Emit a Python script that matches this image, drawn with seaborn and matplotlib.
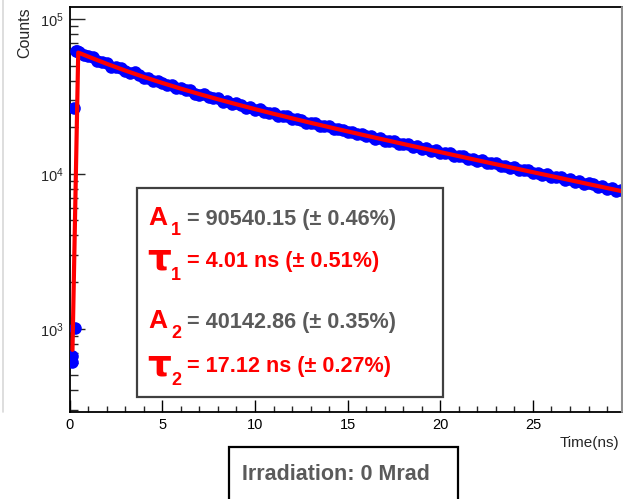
import matplotlib
matplotlib.use("Agg")
import matplotlib.pyplot as plt
import matplotlib.ticker as mticker
from matplotlib.patches import Rectangle
import seaborn as sns
import pandas as pd

# Measured decay histogram (time in ns, counts per bin)
data_time = [0.10, 0.12, 0.27, 0.23, 0.32, 0.40,
             0.50, 0.75, 1.00, 1.25, 1.50, 1.75, 2.00, 2.25, 2.50, 2.75,
             3.00, 3.25, 3.50, 3.75, 4.00, 4.25, 4.50, 4.75, 5.00, 5.25,
             5.50, 5.75, 6.00, 6.25, 6.50, 6.75, 7.00, 7.25, 7.50, 7.75,
             8.00, 8.25, 8.50, 8.75, 9.00, 9.25, 9.50, 9.75, 10.00, 10.25,
             10.50, 10.75, 11.00, 11.25, 11.50, 11.75, 12.00, 12.25, 12.50, 12.75,
             13.00, 13.25, 13.50, 13.75, 14.00, 14.25, 14.50, 14.75, 15.00, 15.25,
             15.50, 15.75, 16.00, 16.25, 16.50, 16.75, 17.00, 17.25, 17.50, 17.75,
             18.00, 18.25, 18.50, 18.75, 19.00, 19.25, 19.50, 19.75, 20.00, 20.25,
             20.50, 20.75, 21.00, 21.25, 21.50, 21.75, 22.00, 22.25, 22.50, 22.75,
             23.00, 23.25, 23.50, 23.75, 24.00, 24.25, 24.50, 24.75, 25.00, 25.25,
             25.50, 25.75, 26.00, 26.25, 26.50, 26.75, 27.00, 27.25, 27.50, 27.75,
             28.00, 28.25, 28.50, 28.75, 29.00, 29.25, 29.50, 29.75]
data_counts = [610, 670, 1010, 26700, 61800, 62500,
               61200, 58300, 57450, 56630, 53320, 52570, 51820, 49110, 48900, 48270,
               46160, 44800, 45150, 43410, 41820, 41590, 39690, 39920, 38670, 37620,
               37600, 35770, 35770, 34700, 34550, 32970, 32480, 32690, 31230, 30980,
               30720, 29300, 29330, 28320, 28510, 27680, 26700, 26900, 26000, 26150,
               25090, 24670, 24750, 23800, 23740, 23540, 22500, 22520, 22370, 21430,
               21440, 21310, 20420, 20430, 20290, 19420, 19500, 19300, 18520, 18680,
               18080, 18150, 17440, 17530, 16900, 17080, 16390, 16420, 16310, 15620,
               15680, 15560, 14900, 15030, 14480, 14610, 14070, 14200, 13620, 13700,
               13580, 13020, 13100, 12990, 12450, 12540, 12110, 12240, 11730, 11810,
               11690, 11210, 11310, 10900, 11020, 10570, 10650, 10540, 10110, 10200,
               9820, 9930, 9540, 9610, 9500, 9120, 9200, 8860, 8950, 8600,
               8680, 8570, 8230, 8300, 7990, 8070, 7780, 7840]

# Two-exponential fit curve (time in ns, counts)
fit_time = [0.15, 0.46, 1, 2, 3, 4, 5, 6, 7, 8, 9, 10, 11, 12, 13, 14, 15,
            16, 17, 18, 19, 20, 21, 22, 23, 24, 25, 26, 27, 28, 29, 30]
fit_counts = [730, 60700, 57170, 51360, 46440, 42240, 38630, 35490, 32740,
              30310, 28140, 26190, 24430, 22840, 21370, 20030, 18800, 17650,
              16590, 15600, 14680, 13820, 13010, 12250, 11540, 10880, 10250,
              9670, 9110, 8590, 8100, 7640]

fit_labels = [("A", "1", "= 90540.15 (\u00b1 0.46%)", "#5a5a5a"),
              ("\u03c4", "1", "= 4.01 ns (\u00b1 0.51%)", "#ff0000"),
              ("A", "2", "= 40142.86 (\u00b1 0.35%)", "#5a5a5a"),
              ("\u03c4", "2", "= 17.12 ns (\u00b1 0.27%)", "#ff0000")]
run_label = "Irradiation: 0 Mrad"

W, H = 623, 499
sns.set_style("ticks")
plt.rcParams["font.family"] = ["Liberation Sans", "DejaVu Sans"]
plt.rcParams["mathtext.fontset"] = "custom"
plt.rcParams["mathtext.rm"] = "Liberation Sans"

fig = plt.figure(figsize=(W / 100, H / 100), dpi=100)
fig.patch.set_facecolor("white")

# Plot frame in pixel geometry
left_px, right_px, top_px, bottom_px = 69.7, 622.0, 7.0, 412.0
ax = fig.add_axes([left_px / W, 1 - bottom_px / H,
                   (right_px - left_px) / W, (bottom_px - top_px) / H])
ax.set_facecolor("white")

df_data = pd.DataFrame({"t": data_time, "counts": data_counts})
df_fit = pd.DataFrame({"t": fit_time, "counts": fit_counts})

sns.scatterplot(data=df_data, x="t", y="counts", ax=ax, color="#0000ff",
                s=82, linewidth=0, zorder=3, legend=False)
sns.lineplot(data=df_fit, x="t", y="counts", ax=ax, color="#ff0000",
             linewidth=3, sort=False, estimator=None, zorder=4, legend=False)

ax.set_yscale("log")
ax.set_xlim(0, (right_px - left_px) / 18.53)
ax.set_ylim(290, 119500)
ax.xaxis.set_major_locator(mticker.MultipleLocator(5))
ax.xaxis.set_minor_locator(mticker.MultipleLocator(1))
ax.yaxis.set_major_locator(mticker.LogLocator(base=10, numticks=10))
ax.yaxis.set_minor_locator(mticker.LogLocator(base=10, subs=range(2, 10), numticks=20))
ax.yaxis.set_minor_formatter(mticker.NullFormatter())
ax.xaxis.set_major_formatter(mticker.FormatStrFormatter("%d"))

ax.tick_params(axis="x", which="major", direction="in", length=8.6, width=1,
               labelsize=10.5, pad=4, colors="black")
ax.tick_params(axis="x", which="minor", direction="in", length=4.3, width=1)
ax.tick_params(axis="y", which="major", direction="in", length=10.8, width=1,
               labelsize=10.5, pad=4)
ax.tick_params(axis="y", which="minor", direction="in", length=5.8, width=1)
ax.set_xlabel("")
ax.set_ylabel("")
for side in ("left", "bottom", "top"):
    ax.spines[side].set_visible(True)
    ax.spines[side].set_color("black")
    ax.spines[side].set_linewidth(1.3)
ax.spines["right"].set_visible(False)

# Overlay in pixel coordinates for annotations
ov = fig.add_axes([0, 0, 1, 1], facecolor="none")
ov.set_xlim(0, W)
ov.set_ylim(H, 0)
ov.axis("off")

ov.plot([3, 3], [0, 412], color="#d8d8d8", lw=1.2)
ov.plot([622, 622], [7, 412], color="#909090", lw=1.5)

ov.text(619, 447, "Time(ns)", ha="right", va="baseline", fontsize=11)
ov.text(25, 7, "Counts", rotation=90, ha="center", va="top", fontsize=11.5)

# Fit parameter box
ov.add_patch(Rectangle((137.3, 188.3), 306, 208.4, facecolor="white",
                       edgecolor="#404040", lw=1.6, zorder=5))
rows_y = [225, 267, 328, 372]
for (sym, sub, txt, col), yb in zip(fit_labels, rows_y):
    if sym == "A":
        ov.text(148.5, yb, sym, color="#ff0000", fontsize=19, fontweight="bold",
                ha="left", va="baseline", zorder=6)
        ov.text(171, yb + 10, sub, color="#ff0000", fontsize=13, fontweight="bold",
                ha="left", va="baseline", zorder=6)
    else:
        ov.text(147, yb + 3, sym, color="#ff0000", fontsize=27, fontweight="bold",
                ha="left", va="baseline", zorder=6, family="DejaVu Sans")
        ov.text(171, yb + 13, sub, color="#ff0000", fontsize=13, fontweight="bold",
                ha="left", va="baseline", zorder=6)
    ov.text(186.7, yb, txt, color=col, fontsize=15.6, fontweight="bold",
            ha="left", va="baseline", zorder=6)

# Irradiation label box
ov.add_patch(Rectangle((229.3, 446.7), 229, 60, facecolor="white",
                       edgecolor="black", lw=1.6, zorder=5, clip_on=False))
ov.text(241.7, 479.5, run_label, color="#5a5a5a", fontsize=15.5,
        fontweight="bold", ha="left", va="baseline", zorder=6)

fig.savefig("out.png", dpi=100, facecolor="white")
